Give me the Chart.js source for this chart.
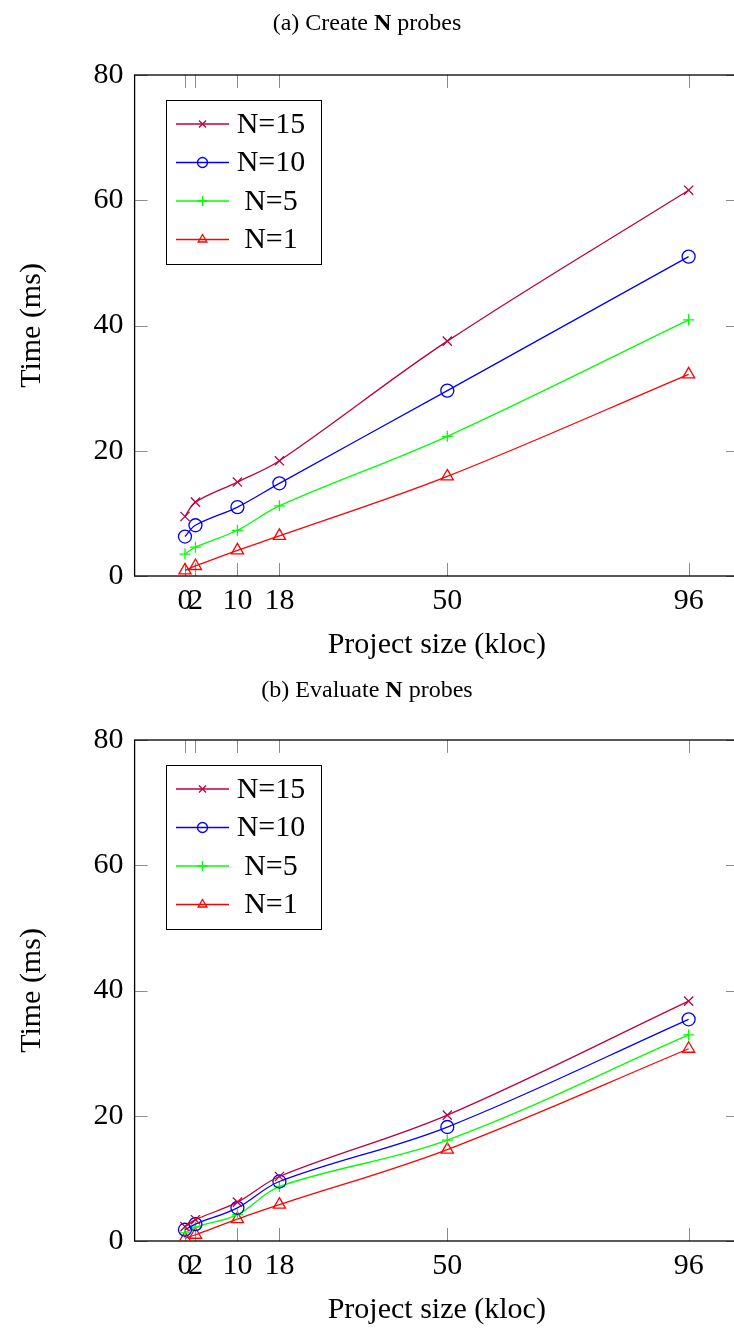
<!DOCTYPE html>
<html>
<head>
<meta charset="utf-8">
<script src="https://cdn.jsdelivr.net/npm/chart.js@4.4.1/dist/chart.umd.min.js"></script>
<style>
	body { margin: 0; width: 734px; height: 1329px; overflow: hidden; background: #fff; position: relative; }
	.title { position: absolute; left: 0; width: 734px; text-align: center; font-family: "Liberation Serif", "DejaVu Serif", serif; font-size: 24px; color: #000; line-height: 28px; }
	.wrap { position: absolute; left: 0; width: 740px; height: 665px; }
</style>
</head>
<body>
<div class="wrap" style="top: 0;"><canvas id="create" width="740" height="665"></canvas></div>
<div class="wrap" style="top: 665px;"><canvas id="evaluate" width="740" height="665"></canvas></div>
<div class="title" style="top: 8px;">(a) Create <b>N</b> probes</div>
<div class="title" style="top: 675px;">(b) Evaluate <b>N</b> probes</div>

<script>
	// Project size (kloc)
	var sizes = [0, 2, 10, 18, 50, 96];
	var xTicks = [0, 2, 10, 18, 50, 96];
	var yTicks = [0, 20, 40, 60, 80];
	var seriesNames = ["N=15", "N=10", "N=5", "N=1"];

	// (a) Create N probes, ms
	var createN15 = [9.5, 11.8, 15.0, 18.4, 37.5, 61.6];
	var createN10 = [6.3, 8.1, 11.0, 14.8, 29.6, 51.0];
	var createN5 = [3.5, 4.6, 7.3, 11.2, 22.3, 40.9];
	var createN1 = [0.9, 1.6, 4.1, 6.4, 15.9, 32.2];

	// (b) Evaluate N probes, ms
	var evalN15 = [2.3, 3.4, 6.2, 10.3, 20.1, 38.3];
	var evalN10 = [1.8, 2.7, 5.3, 9.5, 18.2, 35.4];
	var evalN5 = [1.3, 2.2, 4.2, 8.7, 16.1, 32.9];
	var evalN1 = [0.4, 1.0, 3.5, 5.8, 14.6, 30.7];

	var colors = ["rgb(191, 0, 64)", "#0000ff", "#00ff00", "#ff0000"];
	var markers = ["crossRot", "circle", "cross", "triangle"];
	var markerSizes = [6.5, 6.5, 5.5, 7];
	var serif = "'Liberation Serif', 'DejaVu Serif', serif";

	Chart.defaults.font.family = serif;
	Chart.defaults.color = "#000";

	// Рамка и внутренние засечки как в pgfplots
	var frame = {
		id: "frame",
		beforeDatasetsDraw: function(chart){
			var a = chart.chartArea, ctx = chart.ctx;
			var xs = chart.scales.x, ys = chart.scales.y;
			var tl = 13;
			ctx.save();
			ctx.strokeStyle = "#8c8c8c";
			ctx.lineWidth = 1;
			ctx.beginPath();
			xTicks.forEach(function(v){
				var px = Math.round(xs.getPixelForValue(v)) + 0.5;
				ctx.moveTo(px, a.bottom); ctx.lineTo(px, a.bottom - tl);
				ctx.moveTo(px, a.top); ctx.lineTo(px, a.top + tl);
			});
			yTicks.forEach(function(v){
				var py = Math.round(ys.getPixelForValue(v)) + 0.5;
				ctx.moveTo(a.left, py); ctx.lineTo(a.left + tl, py);
				ctx.moveTo(a.right, py); ctx.lineTo(a.right - tl, py);
			});
			ctx.stroke();
			ctx.strokeStyle = "#000";
			ctx.lineWidth = 1.3;
			ctx.strokeRect(a.left, a.top, a.right - a.left, a.bottom - a.top);
			ctx.restore();
		}
	};

	// Легенда в рамке внутри области графика
	var boxLegend = {
		id: "boxLegend",
		afterDraw: function(chart){
			var a = chart.chartArea, ctx = chart.ctx;
			var bx = 166, by = a.top + 25, bw = 155, bh = 164;
			ctx.save();
			ctx.fillStyle = "#fff";
			ctx.fillRect(bx, by, bw, bh);
			ctx.strokeStyle = "#000";
			ctx.lineWidth = 1;
			ctx.strokeRect(bx + 0.5, by + 0.5, bw, bh);
			chart.data.datasets.forEach(function(ds, i){
				var y = by + 24 + i * 38.5;
				ctx.strokeStyle = ds.borderColor;
				ctx.lineWidth = 1.3;
				ctx.beginPath();
				ctx.moveTo(176, y); ctx.lineTo(229, y);
				ctx.stroke();
				ctx.fillStyle = "rgba(0,0,0,0)";
				Chart.helpers.drawPoint(ctx, {pointStyle: ds.pointStyle, radius: 5, borderWidth: 1.3, rotation: 0}, 202.5, y);
				ctx.fillStyle = "#000";
				ctx.font = "30px " + serif;
				ctx.textAlign = "center";
				ctx.textBaseline = "middle";
				ctx.fillText(ds.label, 271, y + 1);
			});
			ctx.restore();
		}
	};

	function makeChart(id, series){
		var datasets = series.map(function(vals, i){
			return {
				label: seriesNames[i],
				data: sizes.map(function(x, j){ return {x: x, y: vals[j]}; }),
				borderColor: colors[i],
				backgroundColor: "rgba(0,0,0,0)",
				pointBackgroundColor: "rgba(0,0,0,0)",
				pointBorderColor: colors[i],
				pointStyle: markers[i],
				pointRadius: markerSizes[i],
				pointBorderWidth: 1.3,
				borderWidth: 1.3,
				tension: 0.35,
				fill: false
			};
		});
		return new Chart(document.getElementById(id), {
			type: "line",
			data: { datasets: datasets },
			plugins: [frame, boxLegend],
			options: {
				responsive: false,
				devicePixelRatio: 1,
				animation: false,
				layout: { autoPadding: false, padding: { top: 75, right: 1, bottom: 0, left: 0 } },
				plugins: {
					legend: { display: false },
					tooltip: { enabled: false }
				},
				scales: {
					x: {
						type: "linear",
						min: -9.6,
						max: 105.6,
						afterBuildTicks: function(s){ s.ticks = xTicks.map(function(v){ return {value: v}; }); },
						afterFit: function(s){ s.height = 89; s.paddingLeft = 0; s.paddingRight = 0; },
						grid: { display: false, drawTicks: false },
						border: { display: false },
						ticks: { autoSkip: false, maxRotation: 0, padding: 7, font: { size: 30 }, color: "#000" },
						title: { display: true, text: "Project size (kloc)", font: { size: 30 }, color: "#000", padding: { top: 0, bottom: 2 } }
					},
					y: {
						min: 0,
						max: 80,
						afterBuildTicks: function(s){ s.ticks = yTicks.map(function(v){ return {value: v}; }); },
						afterFit: function(s){ s.width = 134.6; s.paddingTop = 0; s.paddingBottom = 0; },
						grid: { display: false, drawTicks: false },
						border: { display: false },
						ticks: { padding: 11, font: { size: 30 }, color: "#000" },
						title: { display: true, text: "Time (ms)", font: { size: 30 }, color: "#000", padding: { top: 14, bottom: 0 } }
					}
				}
			}
		});
	}

	makeChart("create", [createN15, createN10, createN5, createN1]);
	makeChart("evaluate", [evalN15, evalN10, evalN5, evalN1]);
</script>
</body>
</html>
